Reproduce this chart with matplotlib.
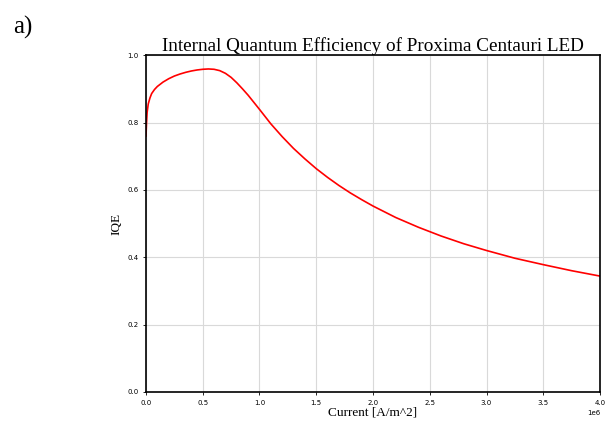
import matplotlib
matplotlib.use("Agg")
from matplotlib import pyplot as plt

# current density [A/m^2] and IQE
current = [0, 0.005e6, 0.01e6, 0.02e6, 0.035e6, 0.05e6, 0.075e6, 0.1e6, 0.15e6,
           0.2e6, 0.25e6, 0.3e6, 0.35e6, 0.4e6, 0.45e6, 0.5e6, 0.55e6, 0.6e6,
           0.65e6, 0.7e6, 0.75e6, 0.8e6, 0.85e6, 0.9e6, 0.95e6, 1.0e6, 1.1e6,
           1.2e6, 1.3e6, 1.4e6, 1.5e6, 1.6e6, 1.7e6, 1.8e6, 1.9e6, 2.0e6,
           2.2e6, 2.4e6, 2.6e6, 2.8e6, 3.0e6, 3.25e6, 3.5e6, 3.75e6, 4.0e6]
iqe = [0.76, 0.80, 0.83, 0.855, 0.873, 0.886, 0.898, 0.907, 0.920,
       0.930, 0.938, 0.944, 0.949, 0.953, 0.956, 0.958, 0.959, 0.958,
       0.954, 0.946, 0.934, 0.918, 0.900, 0.881, 0.860, 0.839, 0.796,
       0.758, 0.723, 0.692, 0.663, 0.637, 0.613, 0.591, 0.571, 0.552,
       0.518, 0.489, 0.463, 0.440, 0.420, 0.397, 0.378, 0.360, 0.344]

plt.figure(figsize=(6.07, 4.21), dpi=100)
ax = plt.axes([0.2405, 0.069, 0.748, 0.80])

ax.plot(current, iqe, color='red', linewidth=1.2)
ax.set_xlim(0, 4e6)
ax.set_ylim(0, 1.0)
ax.grid(True, color='#d9d9d9', linewidth=0.8)
ax.tick_params(labelsize=5, length=2, width=0.6)
ax.xaxis.get_offset_text().set_fontsize(5)
for s in ax.spines.values():
    s.set_linewidth(1.2)
    s.set_color('black')

serif = 'Liberation Serif'
ax.set_title('Internal Quantum Efficiency of Proxima Centauri LED',
             family=serif, fontsize=13.8, pad=2)
ax.set_xlabel('Current [A/m^2]', family=serif, fontsize=9.5, labelpad=1)
ax.set_ylabel('IQE', family=serif, fontsize=9.5, labelpad=3)

plt.figtext(0.022, 0.92, 'a)', family=serif, fontsize=18)

plt.savefig('out.png', dpi=100)
